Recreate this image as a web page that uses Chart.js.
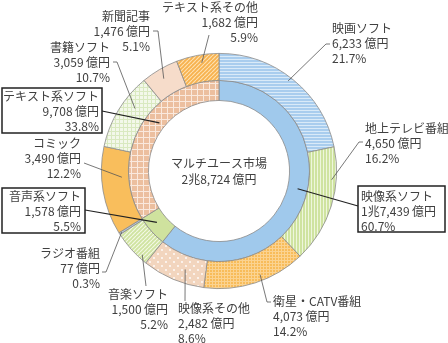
<!DOCTYPE html>
<html>
<head>
<meta charset="utf-8">
<script src="https://cdn.jsdelivr.net/npm/chart.js@4"></script>
<style>
  html, body { margin: 0; background: #fff; }
  canvas { display: block; }
</style>
</head>
<body>
<canvas id="grafico" width="448" height="343"></canvas>
<script>
// Dados (億円)
const grupos = ["映像系ソフト", "音声系ソフト", "テキスト系ソフト"];
const gruposValor = [17439, 1578, 9708];
const gruposPct = [60.7, 5.5, 33.8];

const itens = ["映画ソフト", "地上テレビ番組", "衛星・CATV番組", "映像系その他", "音楽ソフト",
               "ラジオ番組", "コミック", "書籍ソフト", "新聞記事", "テキスト系その他"];
const itensValor = [6233, 4650, 4073, 2482, 1500, 77, 3490, 3059, 1476, 1682];
const itensPct = [21.7, 16.2, 14.2, 8.6, 5.2, 0.3, 12.2, 10.7, 5.1, 5.9];

const tituloCentro = "マルチユース市場";
const totalValor = 28724;

// Posicao dos rotulos (layout): x,y = centro da primeira linha; linha = pontos da linha guia
// t/r = onde a linha encosta no arco (fracao do angulo / do raio)
const rotulosItens = [
  { x: 332, y: 28,  al: "left",  linha: [[330, 44], [326, 44]], t: 0.48, r: 0.85 },
  { x: 365, y: 128, al: "left",  linha: [[363, 142], [359, 142]], t: 0.28, r: 0.83 },
  { x: 273, y: 301, al: "left",  linha: [[271, 302], [267, 302]], t: 0.43, r: 0.77 },
  { x: 178, y: 308, al: "left",  linha: [[185, 301]], t: 0.37, r: 0.5 },
  { x: 168, y: 294, al: "right", linha: [[146, 286]], t: 0.21, r: 0.85 },
  { x: 100, y: 253, al: "right", linha: [[102, 272], [106, 272]], t: 0.5, r: 0.9 },
  { x: 81,  y: 143, al: "right", linha: [[84, 163]], t: 0.64, r: 0.25 },
  { x: 110, y: 47,  al: "right", linha: [[113, 62], [117, 62]], t: 0.64, r: 0.52 },
  { x: 150, y: 16,  al: "right", linha: [[153, 31], [158, 31]], t: 0.47, r: 0.63 },
  { x: 258, y: 7,   al: "right", linha: [[209, 35]], t: 0.57, r: 0.7 }
];
const rotulosGrupos = [
  { x: 361, y: 196, al: "left",  caixa: [358, 186, 87, 46], linha: [[358, 206]], t: 0.47, r: 0.5 },
  { x: 81,  y: 196, al: "right", caixa: [2, 188, 83, 45],  linha: [[85, 210]], t: 0.6, r: 0.5 },
  { x: 99,  y: 96,  al: "right", caixa: [2, 88, 100, 45],  linha: [[102, 111]], t: 0.58, r: 0.3 }
];

const ctx = document.getElementById("grafico").getContext("2d");

// =============================
// Padroes de preenchimento
// =============================
function padrao(tam, fundo, desenhar) {
  const c = document.createElement("canvas");
  c.width = tam; c.height = tam;
  const g = c.getContext("2d");
  g.fillStyle = fundo;
  g.fillRect(0, 0, tam, tam);
  desenhar(g, tam);
  return ctx.createPattern(c, "repeat");
}
const listraH = (fundo, cor) => padrao(3, fundo, (g, t) => { g.fillStyle = cor; g.fillRect(0, 2, t, 1); });
const listraV = (fundo, cor) => padrao(3, fundo, (g, t) => { g.fillStyle = cor; g.fillRect(2, 0, 1, t); });
const grade = (tam, fundo, cor) => padrao(tam, fundo, (g, t) => {
  g.fillStyle = cor; g.fillRect(0, t - 1, t, 1); g.fillRect(t - 1, 0, 1, t);
});
const diagonal = (tam, fundo, cor, larg) => padrao(tam, fundo, (g, t) => {
  g.strokeStyle = cor; g.lineWidth = larg;
  for (let k = -1; k <= 1; k++) {
    g.beginPath(); g.moveTo(k * t, t); g.lineTo(k * t + t, 0); g.stroke();
  }
});
const pontos = (fundo, cor) => padrao(8, fundo, (g) => {
  g.fillStyle = cor;
  g.beginPath(); g.arc(2, 2, 0.9, 0, Math.PI * 2); g.fill();
  g.beginPath(); g.arc(6, 6, 0.9, 0, Math.PI * 2); g.fill();
});

const coresItens = [
  listraH("#a9cdee", "#d9eaf8"),
  listraV("#cfe3a0", "#eef6dc"),
  grade(3, "#f8bc5a", "#fbd391"),
  pontos("#f2d5be", "#ffffff"),
  diagonal(4, "#cfe3a0", "#f2f8e4", 1.2),
  "#b8c8d8",
  "#f9be5c",
  grade(4, "#f3f8ea", "#d9e9c0"),
  "#f6dcca",
  diagonal(4, "#f7b24e", "#fde0b0", 1.2)
];
const coresGrupos = [
  "#a0c9ec",
  "#cfe29e",
  grade(6, "#ecbf9f", "#fae9dd")
];

function fmtValor(v) {
  if (v >= 10000) {
    return Math.floor(v / 10000) + "兆" + (v % 10000).toLocaleString("en-US") + "\u2009億円";
  }
  return v.toLocaleString("en-US") + "\u2009億円";
}

const fonte = '12px "Noto Sans CJK JP", "Noto Sans", sans-serif';
const alturaLinha = 15;

function pontoArco(arco, t, r) {
  const p = arco.getProps(["x", "y", "startAngle", "endAngle", "innerRadius", "outerRadius"], true);
  const a = p.startAngle + (p.endAngle - p.startAngle) * t;
  const raio = p.innerRadius + (p.outerRadius - p.innerRadius) * r;
  return [p.x + Math.cos(a) * raio, p.y + Math.sin(a) * raio];
}

function desenharRotulo(c, arco, cfg, linhas, escuro) {
  // linha guia
  const fim = pontoArco(arco, cfg.t, cfg.r);
  c.beginPath();
  c.strokeStyle = escuro ? "#222" : "#555";
  c.lineWidth = escuro ? 1.2 : 0.8;
  c.moveTo(cfg.linha[0][0], cfg.linha[0][1]);
  cfg.linha.slice(1).forEach(p => c.lineTo(p[0], p[1]));
  c.lineTo(fim[0], fim[1]);
  c.stroke();
  // caixa
  if (cfg.caixa) {
    c.fillStyle = "#fff";
    c.strokeStyle = "#222";
    c.lineWidth = 1.5;
    c.fillRect(cfg.caixa[0], cfg.caixa[1], cfg.caixa[2], cfg.caixa[3]);
    c.strokeRect(cfg.caixa[0], cfg.caixa[1], cfg.caixa[2], cfg.caixa[3]);
  }
  c.fillStyle = "#404040";
  c.font = fonte;
  c.textAlign = cfg.al;
  c.textBaseline = "middle";
  linhas.forEach((txt, k) => c.fillText(txt, cfg.x, cfg.y + k * alturaLinha));
}

const pluginRotulos = {
  id: "rotulos",
  afterDraw(chart) {
    const c = chart.ctx;
    c.save();
    const arcosExt = chart.getDatasetMeta(0).data;
    const arcosInt = chart.getDatasetMeta(1).data;
    rotulosItens.forEach((cfg, i) => {
      desenharRotulo(c, arcosExt[i], cfg, [itens[i], fmtValor(itensValor[i]), itensPct[i].toFixed(1) + "%"], false);
    });
    rotulosGrupos.forEach((cfg, i) => {
      desenharRotulo(c, arcosInt[i], cfg, [grupos[i], fmtValor(gruposValor[i]), gruposPct[i].toFixed(1) + "%"], true);
    });
    // texto central
    const cx = arcosInt[0].x, cy = arcosInt[0].y;
    c.fillStyle = "#404040";
    c.font = fonte;
    c.textAlign = "center";
    c.textBaseline = "middle";
    c.fillText(tituloCentro, cx, cy - 8);
    c.fillText(fmtValor(totalValor), cx, cy + 8);
    c.restore();
  }
};

new Chart(ctx, {
  type: "doughnut",
  data: {
    labels: itens,
    datasets: [
      { data: itensValor, backgroundColor: coresItens, borderColor: "#8a8a8a", borderWidth: 0.8, weight: 27 },
      { data: gruposValor, backgroundColor: coresGrupos, borderColor: "#8a8a8a", borderWidth: 0.8, weight: 20 }
    ]
  },
  options: {
    responsive: false,
    animation: false,
    cutout: "60%",
    layout: { padding: { left: 101, right: 111, top: 53, bottom: 54 } },
    plugins: {
      legend: { display: false },
      tooltip: { enabled: false }
    }
  },
  plugins: [pluginRotulos]
});
</script>
</body>
</html>
